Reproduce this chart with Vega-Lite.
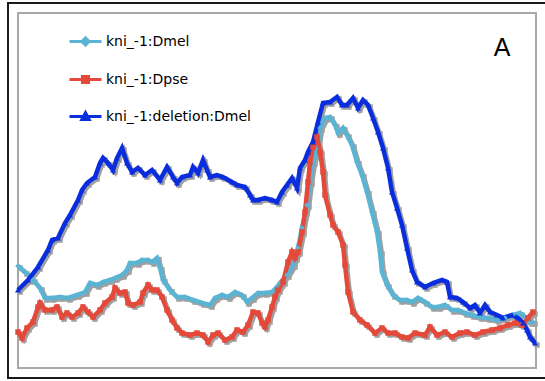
{
"$schema": "https://vega.github.io/schema/vega-lite/v6.json",
"width": 518, "height": 355,
"autosize": {"type": "none"},
"padding": {"left": 18, "top": 13, "right": 9, "bottom": 13},
"background": "white",
"config": {"view": {"stroke": "#a8a8a8", "strokeWidth": 2}, "font": "DejaVu Sans"},
"data": {"values": [
{"s":"kni_-1:Dmel","x":0,"y":102},{"s":"kni_-1:Dmel","x":7,"y":96},{"s":"kni_-1:Dmel","x":15,"y":88},{"s":"kni_-1:Dmel","x":22,"y":80},{"s":"kni_-1:Dmel","x":27,"y":70},{"s":"kni_-1:Dmel","x":34,"y":70},{"s":"kni_-1:Dmel","x":42,"y":71},{"s":"kni_-1:Dmel","x":50,"y":70},{"s":"kni_-1:Dmel","x":59,"y":73},{"s":"kni_-1:Dmel","x":67,"y":76},{"s":"kni_-1:Dmel","x":72,"y":85},{"s":"kni_-1:Dmel","x":79,"y":83},{"s":"kni_-1:Dmel","x":85,"y":86},{"s":"kni_-1:Dmel","x":92,"y":88},{"s":"kni_-1:Dmel","x":97,"y":90},{"s":"kni_-1:Dmel","x":104,"y":93},{"s":"kni_-1:Dmel","x":109,"y":98},{"s":"kni_-1:Dmel","x":112,"y":105},{"s":"kni_-1:Dmel","x":119,"y":105},{"s":"kni_-1:Dmel","x":124,"y":108},{"s":"kni_-1:Dmel","x":130,"y":108},{"s":"kni_-1:Dmel","x":134,"y":106},{"s":"kni_-1:Dmel","x":139,"y":110},{"s":"kni_-1:Dmel","x":142,"y":100},{"s":"kni_-1:Dmel","x":145,"y":88},{"s":"kni_-1:Dmel","x":152,"y":78},{"s":"kni_-1:Dmel","x":159,"y":71},{"s":"kni_-1:Dmel","x":167,"y":71},{"s":"kni_-1:Dmel","x":175,"y":68},{"s":"kni_-1:Dmel","x":184,"y":65},{"s":"kni_-1:Dmel","x":192,"y":63},{"s":"kni_-1:Dmel","x":197,"y":70},{"s":"kni_-1:Dmel","x":204,"y":73},{"s":"kni_-1:Dmel","x":210,"y":71},{"s":"kni_-1:Dmel","x":217,"y":76},{"s":"kni_-1:Dmel","x":224,"y":73},{"s":"kni_-1:Dmel","x":229,"y":66},{"s":"kni_-1:Dmel","x":234,"y":70},{"s":"kni_-1:Dmel","x":240,"y":75},{"s":"kni_-1:Dmel","x":247,"y":75},{"s":"kni_-1:Dmel","x":254,"y":76},{"s":"kni_-1:Dmel","x":259,"y":81},{"s":"kni_-1:Dmel","x":262,"y":85},{"s":"kni_-1:Dmel","x":269,"y":93},{"s":"kni_-1:Dmel","x":275,"y":103},{"s":"kni_-1:Dmel","x":280,"y":120},{"s":"kni_-1:Dmel","x":284,"y":140},{"s":"kni_-1:Dmel","x":289,"y":163},{"s":"kni_-1:Dmel","x":292,"y":186},{"s":"kni_-1:Dmel","x":295,"y":206},{"s":"kni_-1:Dmel","x":299,"y":218},{"s":"kni_-1:Dmel","x":302,"y":240},{"s":"kni_-1:Dmel","x":307,"y":250},{"s":"kni_-1:Dmel","x":312,"y":251},{"s":"kni_-1:Dmel","x":317,"y":243},{"s":"kni_-1:Dmel","x":320,"y":235},{"s":"kni_-1:Dmel","x":325,"y":240},{"s":"kni_-1:Dmel","x":329,"y":233},{"s":"kni_-1:Dmel","x":334,"y":223},{"s":"kni_-1:Dmel","x":339,"y":206},{"s":"kni_-1:Dmel","x":344,"y":193},{"s":"kni_-1:Dmel","x":349,"y":176},{"s":"kni_-1:Dmel","x":354,"y":156},{"s":"kni_-1:Dmel","x":359,"y":136},{"s":"kni_-1:Dmel","x":362,"y":116},{"s":"kni_-1:Dmel","x":364,"y":96},{"s":"kni_-1:Dmel","x":369,"y":83},{"s":"kni_-1:Dmel","x":375,"y":73},{"s":"kni_-1:Dmel","x":382,"y":68},{"s":"kni_-1:Dmel","x":389,"y":68},{"s":"kni_-1:Dmel","x":394,"y":66},{"s":"kni_-1:Dmel","x":400,"y":70},{"s":"kni_-1:Dmel","x":407,"y":66},{"s":"kni_-1:Dmel","x":414,"y":61},{"s":"kni_-1:Dmel","x":420,"y":61},{"s":"kni_-1:Dmel","x":427,"y":63},{"s":"kni_-1:Dmel","x":434,"y":58},{"s":"kni_-1:Dmel","x":440,"y":58},{"s":"kni_-1:Dmel","x":447,"y":55},{"s":"kni_-1:Dmel","x":454,"y":53},{"s":"kni_-1:Dmel","x":462,"y":51},{"s":"kni_-1:Dmel","x":470,"y":50},{"s":"kni_-1:Dmel","x":479,"y":48},{"s":"kni_-1:Dmel","x":487,"y":50},{"s":"kni_-1:Dmel","x":495,"y":53},{"s":"kni_-1:Dmel","x":502,"y":55},{"s":"kni_-1:Dmel","x":507,"y":51},{"s":"kni_-1:Dmel","x":512,"y":46},{"s":"kni_-1:Dmel","x":515,"y":46},
{"s":"kni_-1:Dpse","x":0,"y":36},{"s":"kni_-1:Dpse","x":4,"y":30},{"s":"kni_-1:Dpse","x":9,"y":40},{"s":"kni_-1:Dpse","x":15,"y":46},{"s":"kni_-1:Dpse","x":20,"y":61},{"s":"kni_-1:Dpse","x":22,"y":65},{"s":"kni_-1:Dpse","x":27,"y":58},{"s":"kni_-1:Dpse","x":34,"y":58},{"s":"kni_-1:Dpse","x":39,"y":61},{"s":"kni_-1:Dpse","x":44,"y":51},{"s":"kni_-1:Dpse","x":49,"y":55},{"s":"kni_-1:Dpse","x":54,"y":51},{"s":"kni_-1:Dpse","x":60,"y":55},{"s":"kni_-1:Dpse","x":65,"y":61},{"s":"kni_-1:Dpse","x":70,"y":56},{"s":"kni_-1:Dpse","x":75,"y":51},{"s":"kni_-1:Dpse","x":82,"y":58},{"s":"kni_-1:Dpse","x":87,"y":65},{"s":"kni_-1:Dpse","x":94,"y":71},{"s":"kni_-1:Dpse","x":97,"y":80},{"s":"kni_-1:Dpse","x":102,"y":75},{"s":"kni_-1:Dpse","x":107,"y":76},{"s":"kni_-1:Dpse","x":110,"y":65},{"s":"kni_-1:Dpse","x":115,"y":63},{"s":"kni_-1:Dpse","x":122,"y":66},{"s":"kni_-1:Dpse","x":125,"y":75},{"s":"kni_-1:Dpse","x":130,"y":83},{"s":"kni_-1:Dpse","x":134,"y":78},{"s":"kni_-1:Dpse","x":139,"y":78},{"s":"kni_-1:Dpse","x":144,"y":71},{"s":"kni_-1:Dpse","x":149,"y":58},{"s":"kni_-1:Dpse","x":154,"y":48},{"s":"kni_-1:Dpse","x":159,"y":40},{"s":"kni_-1:Dpse","x":164,"y":35},{"s":"kni_-1:Dpse","x":172,"y":33},{"s":"kni_-1:Dpse","x":179,"y":35},{"s":"kni_-1:Dpse","x":185,"y":33},{"s":"kni_-1:Dpse","x":190,"y":26},{"s":"kni_-1:Dpse","x":195,"y":33},{"s":"kni_-1:Dpse","x":200,"y":35},{"s":"kni_-1:Dpse","x":207,"y":28},{"s":"kni_-1:Dpse","x":214,"y":31},{"s":"kni_-1:Dpse","x":219,"y":38},{"s":"kni_-1:Dpse","x":225,"y":36},{"s":"kni_-1:Dpse","x":230,"y":43},{"s":"kni_-1:Dpse","x":235,"y":56},{"s":"kni_-1:Dpse","x":240,"y":55},{"s":"kni_-1:Dpse","x":244,"y":45},{"s":"kni_-1:Dpse","x":247,"y":41},{"s":"kni_-1:Dpse","x":250,"y":48},{"s":"kni_-1:Dpse","x":254,"y":61},{"s":"kni_-1:Dpse","x":257,"y":71},{"s":"kni_-1:Dpse","x":260,"y":78},{"s":"kni_-1:Dpse","x":265,"y":86},{"s":"kni_-1:Dpse","x":270,"y":106},{"s":"kni_-1:Dpse","x":274,"y":116},{"s":"kni_-1:Dpse","x":277,"y":110},{"s":"kni_-1:Dpse","x":280,"y":116},{"s":"kni_-1:Dpse","x":284,"y":136},{"s":"kni_-1:Dpse","x":287,"y":156},{"s":"kni_-1:Dpse","x":290,"y":186},{"s":"kni_-1:Dpse","x":292,"y":206},{"s":"kni_-1:Dpse","x":295,"y":221},{"s":"kni_-1:Dpse","x":299,"y":231},{"s":"kni_-1:Dpse","x":302,"y":216},{"s":"kni_-1:Dpse","x":305,"y":196},{"s":"kni_-1:Dpse","x":307,"y":173},{"s":"kni_-1:Dpse","x":312,"y":153},{"s":"kni_-1:Dpse","x":315,"y":143},{"s":"kni_-1:Dpse","x":320,"y":136},{"s":"kni_-1:Dpse","x":325,"y":123},{"s":"kni_-1:Dpse","x":327,"y":103},{"s":"kni_-1:Dpse","x":330,"y":76},{"s":"kni_-1:Dpse","x":335,"y":56},{"s":"kni_-1:Dpse","x":342,"y":48},{"s":"kni_-1:Dpse","x":349,"y":43},{"s":"kni_-1:Dpse","x":357,"y":35},{"s":"kni_-1:Dpse","x":364,"y":40},{"s":"kni_-1:Dpse","x":370,"y":35},{"s":"kni_-1:Dpse","x":377,"y":35},{"s":"kni_-1:Dpse","x":384,"y":31},{"s":"kni_-1:Dpse","x":390,"y":30},{"s":"kni_-1:Dpse","x":397,"y":35},{"s":"kni_-1:Dpse","x":407,"y":33},{"s":"kni_-1:Dpse","x":412,"y":41},{"s":"kni_-1:Dpse","x":419,"y":33},{"s":"kni_-1:Dpse","x":427,"y":36},{"s":"kni_-1:Dpse","x":434,"y":31},{"s":"kni_-1:Dpse","x":442,"y":35},{"s":"kni_-1:Dpse","x":449,"y":36},{"s":"kni_-1:Dpse","x":457,"y":33},{"s":"kni_-1:Dpse","x":465,"y":36},{"s":"kni_-1:Dpse","x":474,"y":38},{"s":"kni_-1:Dpse","x":482,"y":40},{"s":"kni_-1:Dpse","x":490,"y":43},{"s":"kni_-1:Dpse","x":497,"y":45},{"s":"kni_-1:Dpse","x":504,"y":43},{"s":"kni_-1:Dpse","x":510,"y":50},{"s":"kni_-1:Dpse","x":515,"y":56},
{"s":"kni_-1:deletion:Dmel","x":0,"y":78},{"s":"kni_-1:deletion:Dmel","x":10,"y":88},{"s":"kni_-1:deletion:Dmel","x":20,"y":101},{"s":"kni_-1:deletion:Dmel","x":30,"y":118},{"s":"kni_-1:deletion:Dmel","x":34,"y":128},{"s":"kni_-1:deletion:Dmel","x":40,"y":130},{"s":"kni_-1:deletion:Dmel","x":47,"y":145},{"s":"kni_-1:deletion:Dmel","x":52,"y":153},{"s":"kni_-1:deletion:Dmel","x":60,"y":168},{"s":"kni_-1:deletion:Dmel","x":64,"y":178},{"s":"kni_-1:deletion:Dmel","x":69,"y":185},{"s":"kni_-1:deletion:Dmel","x":77,"y":191},{"s":"kni_-1:deletion:Dmel","x":82,"y":205},{"s":"kni_-1:deletion:Dmel","x":85,"y":210},{"s":"kni_-1:deletion:Dmel","x":90,"y":205},{"s":"kni_-1:deletion:Dmel","x":95,"y":198},{"s":"kni_-1:deletion:Dmel","x":99,"y":210},{"s":"kni_-1:deletion:Dmel","x":104,"y":220},{"s":"kni_-1:deletion:Dmel","x":109,"y":205},{"s":"kni_-1:deletion:Dmel","x":114,"y":196},{"s":"kni_-1:deletion:Dmel","x":120,"y":200},{"s":"kni_-1:deletion:Dmel","x":127,"y":193},{"s":"kni_-1:deletion:Dmel","x":134,"y":198},{"s":"kni_-1:deletion:Dmel","x":142,"y":188},{"s":"kni_-1:deletion:Dmel","x":149,"y":201},{"s":"kni_-1:deletion:Dmel","x":155,"y":191},{"s":"kni_-1:deletion:Dmel","x":159,"y":185},{"s":"kni_-1:deletion:Dmel","x":164,"y":191},{"s":"kni_-1:deletion:Dmel","x":172,"y":193},{"s":"kni_-1:deletion:Dmel","x":175,"y":201},{"s":"kni_-1:deletion:Dmel","x":180,"y":195},{"s":"kni_-1:deletion:Dmel","x":185,"y":208},{"s":"kni_-1:deletion:Dmel","x":189,"y":198},{"s":"kni_-1:deletion:Dmel","x":192,"y":191},{"s":"kni_-1:deletion:Dmel","x":199,"y":193},{"s":"kni_-1:deletion:Dmel","x":205,"y":191},{"s":"kni_-1:deletion:Dmel","x":214,"y":186},{"s":"kni_-1:deletion:Dmel","x":219,"y":183},{"s":"kni_-1:deletion:Dmel","x":227,"y":181},{"s":"kni_-1:deletion:Dmel","x":232,"y":173},{"s":"kni_-1:deletion:Dmel","x":235,"y":168},{"s":"kni_-1:deletion:Dmel","x":240,"y":168},{"s":"kni_-1:deletion:Dmel","x":247,"y":170},{"s":"kni_-1:deletion:Dmel","x":254,"y":168},{"s":"kni_-1:deletion:Dmel","x":259,"y":166},{"s":"kni_-1:deletion:Dmel","x":264,"y":176},{"s":"kni_-1:deletion:Dmel","x":269,"y":183},{"s":"kni_-1:deletion:Dmel","x":274,"y":190},{"s":"kni_-1:deletion:Dmel","x":279,"y":180},{"s":"kni_-1:deletion:Dmel","x":282,"y":200},{"s":"kni_-1:deletion:Dmel","x":287,"y":208},{"s":"kni_-1:deletion:Dmel","x":290,"y":216},{"s":"kni_-1:deletion:Dmel","x":295,"y":226},{"s":"kni_-1:deletion:Dmel","x":300,"y":246},{"s":"kni_-1:deletion:Dmel","x":305,"y":265},{"s":"kni_-1:deletion:Dmel","x":312,"y":266},{"s":"kni_-1:deletion:Dmel","x":319,"y":271},{"s":"kni_-1:deletion:Dmel","x":324,"y":263},{"s":"kni_-1:deletion:Dmel","x":329,"y":263},{"s":"kni_-1:deletion:Dmel","x":335,"y":270},{"s":"kni_-1:deletion:Dmel","x":340,"y":260},{"s":"kni_-1:deletion:Dmel","x":345,"y":268},{"s":"kni_-1:deletion:Dmel","x":350,"y":263},{"s":"kni_-1:deletion:Dmel","x":355,"y":250},{"s":"kni_-1:deletion:Dmel","x":360,"y":236},{"s":"kni_-1:deletion:Dmel","x":365,"y":220},{"s":"kni_-1:deletion:Dmel","x":370,"y":200},{"s":"kni_-1:deletion:Dmel","x":374,"y":176},{"s":"kni_-1:deletion:Dmel","x":379,"y":160},{"s":"kni_-1:deletion:Dmel","x":384,"y":143},{"s":"kni_-1:deletion:Dmel","x":389,"y":120},{"s":"kni_-1:deletion:Dmel","x":394,"y":98},{"s":"kni_-1:deletion:Dmel","x":399,"y":86},{"s":"kni_-1:deletion:Dmel","x":407,"y":81},{"s":"kni_-1:deletion:Dmel","x":415,"y":85},{"s":"kni_-1:deletion:Dmel","x":424,"y":88},{"s":"kni_-1:deletion:Dmel","x":429,"y":86},{"s":"kni_-1:deletion:Dmel","x":432,"y":71},{"s":"kni_-1:deletion:Dmel","x":439,"y":70},{"s":"kni_-1:deletion:Dmel","x":445,"y":66},{"s":"kni_-1:deletion:Dmel","x":452,"y":60},{"s":"kni_-1:deletion:Dmel","x":457,"y":63},{"s":"kni_-1:deletion:Dmel","x":462,"y":55},{"s":"kni_-1:deletion:Dmel","x":467,"y":63},{"s":"kni_-1:deletion:Dmel","x":472,"y":56},{"s":"kni_-1:deletion:Dmel","x":479,"y":53},{"s":"kni_-1:deletion:Dmel","x":485,"y":50},{"s":"kni_-1:deletion:Dmel","x":494,"y":53},{"s":"kni_-1:deletion:Dmel","x":500,"y":50},{"s":"kni_-1:deletion:Dmel","x":505,"y":45},{"s":"kni_-1:deletion:Dmel","x":509,"y":38},{"s":"kni_-1:deletion:Dmel","x":512,"y":31},{"s":"kni_-1:deletion:Dmel","x":517,"y":25}
]},
"layer": [
  {
    "encoding": {
      "x": {"field": "x", "type": "quantitative", "axis": null, "scale": {"domain": [-2, 516], "nice": false, "zero": false}},
      "y": {"field": "y", "type": "quantitative", "axis": null, "scale": {"domain": [2, 357], "nice": false, "zero": false}},
      "detail": {"field": "s"}
    },
    "layer": [
      {"mark": {"type": "line", "color": "#a0a0a0", "strokeWidth": 4.5}},
      {"mark": {"type": "point", "filled": true, "color": "#a0a0a0", "opacity": 1, "size": 30, "shape": "square"}}
    ]
  },
  {
    "encoding": {
      "x": {"field": "x", "type": "quantitative", "axis": null, "scale": {"domain": [0, 518], "nice": false, "zero": false}},
      "y": {"field": "y", "type": "quantitative", "axis": null, "scale": {"domain": [0, 355], "nice": false, "zero": false}}
    },
    "layer": [
      {
        "transform": [{"filter": "datum.x === 0 && datum.s === 'kni_-1:Dmel'"}],
        "mark": {"type": "rect", "fill": null, "filled": false, "stroke": "#1a1a1a", "strokeWidth": 2, "clip": false},
        "encoding": {
          "x": {"datum": -10, "type": "quantitative", "scale": {"domain": [0, 518], "nice": false, "zero": false}},
          "x2": {"datum": 535},
          "y": {"datum": -10, "type": "quantitative", "scale": {"domain": [0, 355], "nice": false, "zero": false}},
          "y2": {"datum": 365}
        }
      },
      {
        "mark": {"type": "line", "strokeWidth": 4.5},
        "encoding": {
          "color": {"field": "s", "type": "nominal",
            "scale": {"domain": ["kni_-1:Dmel", "kni_-1:Dpse", "kni_-1:deletion:Dmel"], "range": ["#5ab4d4", "#e4493a", "#0a2ede"]},
            "legend": {"orient": "none", "legendX": 50, "legendY": 11, "title": null, "padding": 0,
              "symbolSize": 1024, "symbolStrokeWidth": 3, "rowPadding": 10, "labelOffset": 3,
              "labelFont": "DejaVu Sans", "labelFontSize": 14, "labelColor": "#000000",
              "symbolType": "M-1,0L1,0",
              "encode": {"symbols": {"update": {
                "shape": {"signal": "datum.value === 'kni_-1:Dmel' ? 'M-1,0L1,0M-0.22,0L0,-0.22L0.22,0L0,0.22Z' : datum.value === 'kni_-1:Dpse' ? 'M-1,0L1,0M-0.19,-0.19L0.19,-0.19L0.19,0.19L-0.19,0.19Z' : 'M-1,0L1,0M-0.23,0.18L0,-0.24L0.23,0.18Z'"},
                "fill": {"signal": "datum.value === 'kni_-1:Dmel' ? '#5ab4d4' : datum.value === 'kni_-1:Dpse' ? '#e4493a' : '#0a2ede'"},
                "stroke": {"signal": "datum.value === 'kni_-1:Dmel' ? '#5ab4d4' : datum.value === 'kni_-1:Dpse' ? '#e4493a' : '#0a2ede'"},
                "strokeWidth": {"value": 3},
                "opacity": {"value": 1}
              }}}
            }
          }
        }
      },
      {
        "transform": [{"filter": "datum.s === 'kni_-1:Dmel'"}],
        "mark": {"type": "point", "filled": true, "size": 32, "opacity": 1, "shape": "diamond", "color": "#5ab4d4"}
      },
      {
        "transform": [{"filter": "datum.s === 'kni_-1:Dpse'"}],
        "mark": {"type": "point", "filled": true, "size": 30, "opacity": 1, "shape": "square", "color": "#e4493a"}
      },
      {
        "transform": [{"filter": "datum.s === 'kni_-1:deletion:Dmel'"}],
        "mark": {"type": "point", "filled": true, "size": 36, "opacity": 1, "shape": "triangle-up", "color": "#0a2ede"}
      },
      {
        "transform": [{"filter": "datum.x === 0 && datum.s === 'kni_-1:Dmel'"}],
        "mark": {"type": "text", "text": "A", "font": "Liberation Sans", "fontSize": 25, "align": "center", "baseline": "alphabetic", "color": "#000000"},
        "encoding": {
          "x": {"datum": 484, "type": "quantitative", "scale": {"domain": [0, 518], "nice": false, "zero": false}},
          "y": {"datum": 312, "type": "quantitative", "scale": {"domain": [0, 355], "nice": false, "zero": false}}
        }
      }
    ]
  }
],
"resolve": {"scale": {"x": "independent", "y": "independent"}}
}
